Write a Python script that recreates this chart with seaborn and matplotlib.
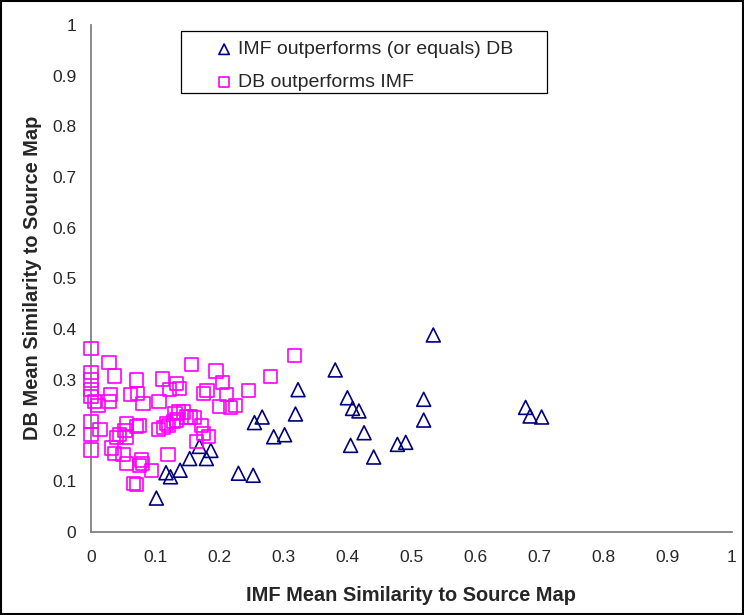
import pandas as pd
import matplotlib
matplotlib.use("Agg")
import matplotlib.pyplot as plt
from matplotlib.patches import Rectangle
import seaborn as sns

# IMF outperforms (or equals) DB  -> triangles
imf_x = [0.102, 0.117, 0.124, 0.139, 0.154, 0.169, 0.180, 0.187, 0.230, 0.253,
         0.255, 0.267, 0.285, 0.302, 0.319, 0.323, 0.381, 0.400, 0.408, 0.418,
         0.426, 0.405, 0.441, 0.478, 0.491, 0.519, 0.519, 0.534, 0.678, 0.685,
         0.703]
imf_y = [0.066, 0.116, 0.108, 0.121, 0.144, 0.168, 0.144, 0.160, 0.115, 0.111,
         0.215, 0.226, 0.187, 0.191, 0.232, 0.280, 0.319, 0.264, 0.243, 0.238,
         0.195, 0.170, 0.147, 0.172, 0.176, 0.261, 0.220, 0.388, 0.245, 0.228,
         0.226]

# DB outperforms IMF -> squares
db_x = [0.000, 0.000, 0.000, 0.000, 0.000, 0.006, 0.011, 0.000, 0.000, 0.000,
        0.014, 0.028, 0.037, 0.030, 0.028,
        0.071, 0.062, 0.072, 0.081,
        0.111, 0.106, 0.122, 0.133, 0.138, 0.157,
        0.195, 0.205, 0.175, 0.181, 0.200, 0.212, 0.217, 0.225, 0.246, 0.280, 0.317,
        0.055, 0.053, 0.045, 0.040, 0.055, 0.076, 0.071, 0.105, 0.113, 0.121,
        0.134, 0.131, 0.144, 0.149, 0.162, 0.173, 0.175, 0.183, 0.165, 0.118,
        0.129, 0.155, 0.137,
        0.032, 0.037, 0.050, 0.055, 0.079, 0.076, 0.094, 0.066, 0.071, 0.120, 0.080]
db_y = [0.362, 0.314, 0.299, 0.280, 0.266, 0.256, 0.249, 0.217, 0.191, 0.161,
        0.202, 0.333, 0.307, 0.270, 0.256,
        0.299, 0.270, 0.273, 0.253,
        0.301, 0.256, 0.280, 0.293, 0.283, 0.329,
        0.317, 0.294, 0.273, 0.278, 0.246, 0.270, 0.245, 0.249, 0.278, 0.306, 0.348,
        0.213, 0.200, 0.191, 0.186, 0.186, 0.210, 0.207, 0.202, 0.206, 0.210,
        0.220, 0.233, 0.236, 0.226, 0.225, 0.210, 0.194, 0.187, 0.178, 0.213,
        0.217, 0.226, 0.236,
        0.165, 0.154, 0.152, 0.135, 0.141, 0.131, 0.121, 0.095, 0.093, 0.152, 0.134]

ticks = [0, 0.1, 0.2, 0.3, 0.4, 0.5, 0.6, 0.7, 0.8, 0.9, 1]
tick_labels = ["0", "0.1", "0.2", "0.3", "0.4", "0.5", "0.6", "0.7", "0.8", "0.9", "1"]

imf_df = pd.DataFrame({"x": imf_x, "y": imf_y})
db_df = pd.DataFrame({"x": db_x, "y": db_y})

sns.set_style("white")
plt.rcParams["font.family"] = ["Liberation Sans", "DejaVu Sans"]

fig = plt.figure(figsize=(7.44, 6.15), dpi=100)
ax = fig.add_axes([91 / 744, 1 - 531.5 / 615, 641 / 744, 506.5 / 615])

sns.scatterplot(data=imf_df, x="x", y="y", ax=ax, marker="^", s=100,
                color="#000080", facecolors="none", edgecolor="#000080",
                linewidth=1.2, clip_on=False, zorder=3,
                label="IMF outperforms (or equals) DB")
sns.scatterplot(data=db_df, x="x", y="y", ax=ax, marker="s", s=90,
                color="#FF00FF", facecolors="none", edgecolor="#FF00FF",
                linewidth=1.2, clip_on=False, zorder=3,
                label="DB outperforms IMF")

ax.set_xlim(0, 1)
ax.set_ylim(0, 1)
ax.set_xticks(ticks)
ax.set_xticklabels(tick_labels)
ax.set_yticks(ticks)
ax.set_yticklabels(tick_labels)
ax.tick_params(axis="both", labelsize=12.5, length=3.5, width=1,
               color="#404040", direction="out")
ax.tick_params(axis="x", pad=10)
ax.tick_params(axis="y", pad=7)

for side in ["top", "right"]:
    ax.spines[side].set_visible(False)
for side in ["left", "bottom"]:
    ax.spines[side].set_color("#808080")
    ax.spines[side].set_linewidth(1.3)

ax.set_xlabel("IMF Mean Similarity to Source Map", fontsize=14.4,
              fontweight="bold", labelpad=15)
ax.set_ylabel("DB Mean Similarity to Source Map", fontsize=14.4,
              fontweight="bold", labelpad=7)

# legend with a plain box drawn separately
leg = ax.legend(loc="upper left", bbox_to_anchor=(0.194, 0.969), frameon=False,
                fontsize=14, borderpad=0, borderaxespad=0, handlelength=0.9,
                handletextpad=0.25, labelspacing=0.76, markerscale=0.75)
ax.add_patch(Rectangle((0.140, 0.866), 0.571, 0.122, transform=ax.transAxes,
                       fill=False, edgecolor="black", linewidth=0.9,
                       clip_on=False, zorder=4))

# outer chart border
fig.patches.append(Rectangle((0.001, 0.001), 0.998, 0.998,
                             transform=fig.transFigure, fill=False,
                             edgecolor="black", linewidth=1.5))

fig.savefig("out.png", dpi=100)
